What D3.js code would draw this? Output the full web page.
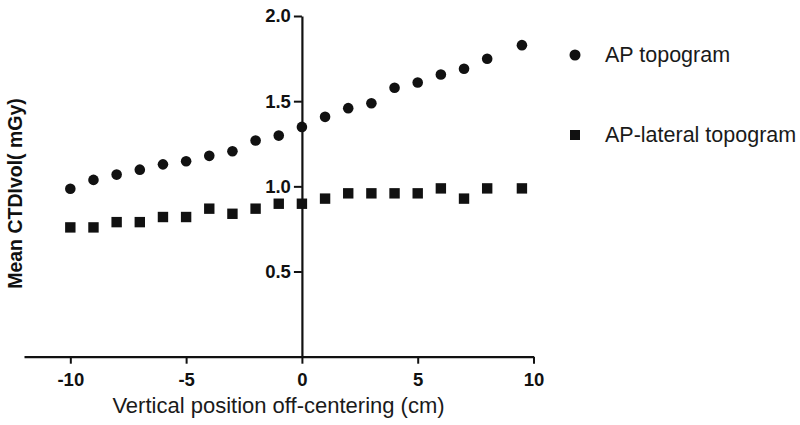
<!DOCTYPE html>
<html>
<head>
<meta charset="utf-8">
<script src="https://cdn.jsdelivr.net/npm/d3@7"></script>
<style>
  html, body { margin: 0; padding: 0; background: #fff; }
  svg { display: block; }
</style>
</head>
<body>
<svg id="chart" width="800" height="425"></svg>
<script>
// Data
const positions = [-10, -9, -8, -7, -6, -5, -4, -3, -2, -1, 0, 1, 2, 3, 4, 5, 6, 7, 8, 9.5];
const apTopogram = [0.986, 1.038, 1.069, 1.098, 1.129, 1.147, 1.179, 1.206, 1.269, 1.298, 1.349,
                    1.408, 1.459, 1.488, 1.579, 1.610, 1.657, 1.690, 1.749, 1.829];
const apLateralTopogram = [0.759, 0.759, 0.790, 0.790, 0.820, 0.820, 0.869, 0.839, 0.869, 0.898, 0.898,
                           0.928, 0.959, 0.959, 0.959, 0.959, 0.988, 0.928, 0.988, 0.988];
const xTicks = [-10, -5, 0, 5, 10];
const yTicks = [0.5, 1.0, 1.5, 2.0];
const seriesNames = ["AP topogram", "AP-lateral topogram"];
const xTitle = "Vertical position off-centering (cm)";
const yTitle = "Mean CTDIvol( mGy)";

const svg = d3.select("#chart");
const font = "'Liberation Sans', Arial, Helvetica, sans-serif";
const ink = "#111";

const x = d3.scaleLinear().domain([-12, 10]).range([24, 533.5]);
const y = d3.scaleLinear().domain([0, 2]).range([356.7, 16]);

// X axis
const xAxis = svg.append("g")
  .attr("transform", `translate(0,${y(0)})`)
  .call(d3.axisBottom(x).tickValues(xTicks).tickSize(7).tickSizeOuter(0).tickPadding(9)
    .tickFormat(d => String(d)));
// Y axis
const yAxis = svg.append("g")
  .attr("transform", `translate(${x(0)},0)`)
  .call(d3.axisLeft(y).tickValues(yTicks).tickSize(8).tickSizeOuter(0).tickPadding(3)
    .tickFormat(d => d.toFixed(1)));

[xAxis, yAxis].forEach(g => {
  g.select(".domain").attr("stroke", ink).attr("stroke-width", 2.2);
  g.selectAll(".tick line").attr("stroke", ink).attr("stroke-width", 2);
  g.selectAll(".tick text")
    .attr("fill", ink)
    .style("font-family", font)
    .style("font-size", "18.5px")
    .style("font-weight", "bold");
});

// Series: circles
svg.append("g").selectAll("circle")
  .data(positions.map((p, i) => ({x: p, y: apTopogram[i]})))
  .join("circle")
  .attr("cx", d => x(d.x))
  .attr("cy", d => y(d.y))
  .attr("r", 5.3)
  .attr("fill", ink);

// Series: squares
const sq = 10.4;
svg.append("g").selectAll("rect")
  .data(positions.map((p, i) => ({x: p, y: apLateralTopogram[i]})))
  .join("rect")
  .attr("x", d => x(d.x) - sq / 2)
  .attr("y", d => y(d.y) - sq / 2)
  .attr("width", sq)
  .attr("height", sq)
  .attr("fill", ink);

// Axis titles
svg.append("text")
  .attr("x", 278.5)
  .attr("y", 413)
  .attr("text-anchor", "middle")
  .style("font-family", font)
  .style("font-size", "22px")
  .attr("fill", "#1a1a1a")
  .text(xTitle);

svg.append("text")
  .attr("transform", "translate(22,193.5) rotate(-90)")
  .attr("text-anchor", "middle")
  .style("font-family", font)
  .style("font-size", "19.5px")
  .style("font-weight", "bold")
  .attr("fill", ink)
  .text(yTitle);

// Legend
const legend = svg.append("g");
legend.append("circle").attr("cx", 575).attr("cy", 55).attr("r", 5.5).attr("fill", ink);
legend.append("rect").attr("x", 570).attr("y", 130).attr("width", 10).attr("height", 10).attr("fill", ink);
legend.selectAll("text")
  .data(seriesNames)
  .join("text")
  .attr("x", 605)
  .attr("y", (d, i) => i === 0 ? 61.5 : 141.5)
  .style("font-family", font)
  .style("font-size", "21.5px")
  .attr("fill", "#1a1a1a")
  .text(d => d);
</script>
</body>
</html>
